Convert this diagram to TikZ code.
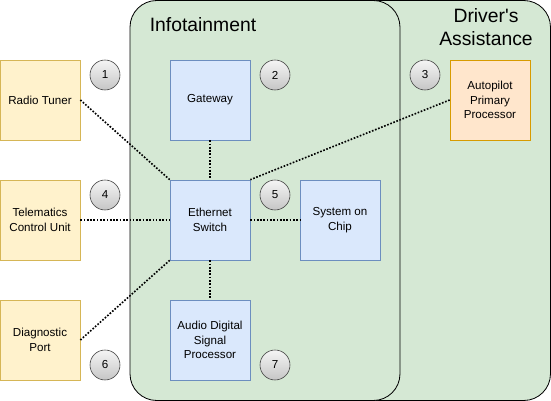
\documentclass[tikz,border=0pt]{standalone}
\usepackage{fontspec}
\setmainfont{Liberation Sans}
\newfontfamily\zonefont[Ligatures=ResetAll]{Liberation Sans}
\usepackage{xcolor}
\usepackage{tikz}
\usetikzlibrary{positioning, shapes.geometric, calc, backgrounds}

\definecolor{zoneGreen}{HTML}{D5E8D4}
\definecolor{extFill}{HTML}{FFF2CC}
\definecolor{extLine}{HTML}{D6B656}
\definecolor{ecuFill}{HTML}{DAE8FC}
\definecolor{ecuLine}{HTML}{6C8EBF}
\definecolor{adasFill}{HTML}{FFE6CC}
\definecolor{adasLine}{HTML}{D79B00}

\begin{document}
\begin{tikzpicture}[x=0.03cm, y=-0.03cm, font=\fontsize{9.9}{12.6}\selectfont,
  extbox/.style={draw=extLine, fill=extFill, line width=0.6pt, minimum size=2.4cm, align=center, inner sep=1pt},
  ecubox/.style={draw=ecuLine, fill=ecuFill, line width=0.6pt, minimum size=2.4cm, align=center, inner sep=1pt},
  adasbox/.style={draw=adasLine, fill=adasFill, line width=0.6pt, minimum size=2.4cm, align=center, inner sep=1pt},
  zonetitle/.style={font=\zonefont\fontsize{16.5}{19.5}\selectfont, align=center},
  badge/.style={circle, draw=black!75, line width=0.5pt, top color=gray!8, bottom color=gray!45, minimum size=0.9cm, inner sep=0pt},
  link/.style={line width=1.4pt, dash pattern=on 1.4pt off 1.4pt}]
  \useasboundingbox (0,0) rectangle (551,401);

  % Zones
  \draw[fill=zoneGreen, line width=0.7pt, rounded corners=0.8cm] (340,0.5) rectangle (550.5,400.5);
  \draw[fill=zoneGreen, line width=0.7pt, rounded corners=0.8cm] (130,0.5) rectangle (400,400.5);
  \node[zonetitle] (infotitle) at (203,25) {Infotainment};
  \node[zonetitle] (adastitle) at (486,27) {Driver's\\Assistance};

  % External units
  \node[extbox] (radio) at (40,100) {Radio Tuner};
  \node[extbox] (telematics) at (40,220) {Telematics\\Control Unit};
  \node[extbox] (diagnostic) at (40,340) {Diagnostic\\Port};

  % Infotainment units
  \node[ecubox] (gateway) at (210,100) {Gateway};
  \node[ecubox] (ethswitch) at (210,220) {Ethernet\\Switch};
  \node[ecubox] (soc) at (340,220) {System on\\Chip};
  \node[ecubox] (audiodsp) at (210,340) {Audio Digital\\Signal\\Processor};

  % Driver's assistance unit
  \node[adasbox] (autopilot) at (490,100) {Autopilot\\Primary\\Processor};

  % Links
  \draw[link] (radio.east) -- (ethswitch.north west);
  \draw[link] (telematics) -- (ethswitch);
  \draw[link] (diagnostic.east) -- (ethswitch.south west);
  \draw[link] (gateway) -- (ethswitch);
  \draw[link] (ethswitch) -- (soc);
  \draw[link] (ethswitch) -- (audiodsp);
  \draw[link] (autopilot.west) -- (ethswitch.north east);

  % Numbered badges
  \node[badge] (b1) at (105,75) {1};
  \node[badge] (b2) at (275,75) {2};
  \node[badge] (b3) at (425,75) {3};
  \node[badge] (b4) at (105,195) {4};
  \node[badge] (b5) at (275,195) {5};
  \node[badge] (b6) at (105,365) {6};
  \node[badge] (b7) at (275,365) {7};
\end{tikzpicture}
\end{document}
